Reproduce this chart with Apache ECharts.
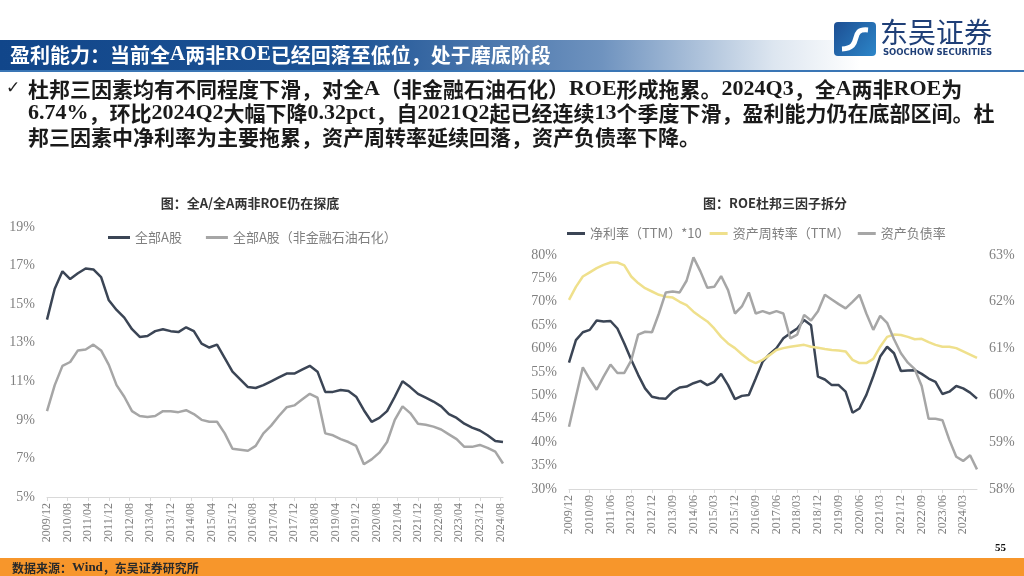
<!DOCTYPE html>
<html>
<head>
<meta charset="utf-8">
<script src="https://cdn.jsdelivr.net/npm/echarts@6/dist/echarts.min.js"></script>
<style>
html,body{margin:0;padding:0;background:#fff;}
#c{width:1024px;height:576px;}
</style>
</head>
<body>
<div id="c"></div>
<script>
// ---------------- DATA ----------------
// quarterly observations (quarter-end months), 2009/12 .. 2024/09
const startYear = 2009, startMonth = 12;
const monthCount = 178; // 2009/12 .. 2024/09
// Left chart: ROE (TTM, %)
const roeAll = [14.2,15.8,16.7,16.3,16.6,16.85,16.8,16.4,15.2,14.7,14.3,13.7,13.3,13.35,13.6,13.7,13.6,13.55,13.8,13.6,12.95,12.75,12.9,12.2,11.5,11.1,10.7,10.65,10.8,11.0,11.2,11.4,11.4,11.6,11.8,11.5,10.45,10.45,10.55,10.5,10.2,9.5,8.9,9.1,9.45,10.2,11.0,10.7,10.35,10.15,9.95,9.7,9.3,9.1,8.8,8.6,8.45,8.2,7.9,7.85];
const roeExFinOil = [9.45,10.8,11.8,12.0,12.6,12.65,12.9,12.6,11.85,10.8,10.2,9.45,9.2,9.15,9.2,9.45,9.45,9.4,9.5,9.3,9.0,8.9,8.9,8.3,7.5,7.45,7.4,7.65,8.3,8.7,9.2,9.65,9.75,10.05,10.35,10.15,8.3,8.2,8.0,7.85,7.65,6.7,6.95,7.3,7.85,9.0,9.7,9.35,8.8,8.75,8.65,8.5,8.25,8.0,7.6,7.6,7.7,7.55,7.35,6.74];
// Right chart: DuPont factors (%)
const netMarginX10 = [57.0,61.8,63.5,64.0,66.0,65.8,65.9,64.3,61.1,57.6,54.4,51.5,49.7,49.4,49.3,50.8,51.7,51.9,52.6,53.1,52.2,52.9,54.6,52.2,49.2,49.9,50.1,53.6,57.2,58.8,60.1,62.2,63.3,64.3,66.1,65.0,54.0,53.4,52.2,52.2,50.8,46.3,47.2,50.1,54.1,58.3,60.4,59.0,55.2,55.3,55.4,54.6,53.6,52.9,50.3,50.8,52.0,51.5,50.6,49.3];
const assetTurnover = [70.4,73.2,75.4,76.3,77.2,77.9,78.4,78.4,77.8,75.4,74.0,72.9,72.2,71.5,71.1,70.9,70.0,69.3,67.9,66.8,65.8,64.3,62.5,61.1,60.1,58.8,57.6,56.9,57.6,58.6,59.7,60.1,60.4,60.6,60.8,60.4,60.2,59.9,59.7,59.6,59.4,57.6,56.9,56.9,57.8,60.4,62.5,63.0,62.9,62.5,62.0,62.1,61.4,60.8,60.4,60.4,60.1,59.4,58.7,58.0];
const debtRatio = [59.33,59.97,60.6,60.35,60.12,60.4,60.66,60.48,60.48,60.75,61.3,61.36,61.35,61.75,62.2,62.22,62.2,62.45,62.95,62.65,62.3,62.32,62.55,62.25,61.75,61.9,62.2,61.75,61.8,61.75,61.8,61.75,61.22,61.3,61.72,61.6,61.8,62.15,62.05,61.95,61.86,62.0,62.15,61.75,61.4,61.7,61.55,61.2,60.9,60.7,60.56,60.2,59.5,59.5,59.47,59.05,58.69,58.6,58.72,58.42];
const leftYTicks = {min:5, max:19, interval:2};
const rightYLeftTicks = {min:30, max:80, interval:5};
const rightYRightTicks = {min:58, max:63, interval:1};
const seriesNamesL = ['全部A股','全部A股（非金融石油石化）'];
const seriesNamesR = ['净利率（TTM）*10','资产周转率（TTM）','资产负债率'];

// ---------------- BUILD ----------------
const months = [];
for (let i = 0; i < monthCount; i++) {
  const t = (startMonth - 1) + i;
  const y = startYear + Math.floor(t / 12);
  const m = t % 12 + 1;
  months.push(y + '/' + (m < 10 ? '0' + m : m));
}
function spread(q) { // place quarterly values at quarter-end months
  const arr = new Array(monthCount).fill(null);
  q.forEach((v, i) => { if (i * 3 < monthCount) arr[i * 3] = v; });
  return arr;
}

const serif = '"Liberation Serif","Times New Roman",serif';
const cjk = '"Noto Sans CJK SC","Noto Sans",sans-serif';
const axisGray = '#d9d9d9';
const labelGray = '#808080';

// rich text: latin runs in serif bold, CJK in CJK bold
function mixRich(str) {
  return str.replace(/([A-Za-z0-9.%]+)/g, '{l|$1}');
}
function richStyles(size, color) {
  return {l:{fontFamily:serif, fontWeight:'bold', fontSize:size+1, fill:color, color:color}};
}

const chart = echarts.init(document.getElementById('c'), null, {renderer:'canvas', width:1024, height:576});

function xAxisCfg(gridIndex, interval) {
  return {
    type:'category', gridIndex, data: months, boundaryGap:false,
    axisLine:{lineStyle:{color:axisGray, width:1}},
    axisTick:{show:true, interval: interval, length:4, lineStyle:{color:axisGray}},
    axisLabel:{interval: interval, rotate:90, color:labelGray, fontFamily:serif, fontSize:12, margin:6},
    splitLine:{show:false}
  };
}
function yAxisCfg(gridIndex, t, pos) {
  return {
    type:'value', gridIndex, position: pos || 'left', min:t.min, max:t.max, interval:t.interval,
    axisLine:{show:false}, axisTick:{show:false}, splitLine:{show:false},
    axisLabel:{formatter:'{value}%', color:labelGray, fontFamily:serif, fontSize:14, margin:12}
  };
}

function textEl(x, y, str, size, color, weight) {
  return {type:'text', x:x, y:y, style:{text:mixRich(str), fill:color,
    font:(weight||'bold') + ' ' + size + 'px ' + cjk, verticalAlign:'middle',
    rich:richStyles(size, color)}};
}

const option = {
  animation:false,
  backgroundColor:'#ffffff',
  title:[
    {text:'图：全A/全A两非ROE仍在探底', left:245, top:192, textAlign:'center',
     textStyle:{fontFamily:cjk, fontWeight:'bold', fontSize:13, color:'#333'}},
    {text:'图：ROE杜邦三因子拆分', left:770, top:192, textAlign:'center',
     textStyle:{fontFamily:cjk, fontWeight:'bold', fontSize:13, color:'#333'}}
  ],
  legend:[
    {data:seriesNamesL, left:103, top:226, itemWidth:22, itemHeight:3, itemGap:24, icon:'rect',
     textStyle:{fontFamily:cjk, fontSize:13, color:'#7f7f7f'}},
    {data:seriesNamesR, left:562, top:222, itemWidth:18, itemHeight:3, itemGap:8, icon:'rect',
     textStyle:{fontFamily:cjk, fontSize:13, color:'#7f7f7f'}}
  ],
  grid:[
    {left:47, right:1024-503, top:227, bottom:576-497},
    {left:569, right:1024-977, top:255, bottom:576-489}
  ],
  xAxis:[xAxisCfg(0,7), xAxisCfg(1,8)],
  yAxis:[
    yAxisCfg(0, leftYTicks),
    yAxisCfg(1, rightYLeftTicks),
    yAxisCfg(1, rightYRightTicks, 'right')
  ],
  series:[
    {name:seriesNamesL[0], type:'line', xAxisIndex:0, yAxisIndex:0, data:spread(roeAll), connectNulls:true,
     showSymbol:false, symbol:'none', lineStyle:{color:'#3b4555', width:2.5}, itemStyle:{color:'#3b4555'}},
    {name:seriesNamesL[1], type:'line', xAxisIndex:0, yAxisIndex:0, data:spread(roeExFinOil), connectNulls:true,
     showSymbol:false, symbol:'none', lineStyle:{color:'#a6a6a6', width:2.5}, itemStyle:{color:'#a6a6a6'}},
    {name:seriesNamesR[0], type:'line', xAxisIndex:1, yAxisIndex:1, data:spread(netMarginX10), connectNulls:true,
     showSymbol:false, symbol:'none', lineStyle:{color:'#3b4555', width:2.5}, itemStyle:{color:'#3b4555'}},
    {name:seriesNamesR[1], type:'line', xAxisIndex:1, yAxisIndex:1, data:spread(assetTurnover), connectNulls:true,
     showSymbol:false, symbol:'none', lineStyle:{color:'#efe08c', width:2.5}, itemStyle:{color:'#efe08c'}},
    {name:seriesNamesR[2], type:'line', xAxisIndex:1, yAxisIndex:2, data:spread(debtRatio), connectNulls:true,
     showSymbol:false, symbol:'none', lineStyle:{color:'#a6a6a6', width:2.5}, itemStyle:{color:'#a6a6a6'}}
  ],
  graphic:[
    // header band
    {type:'rect', x:0, y:40, shape:{x:0, y:0, width:860, height:30}, z:0,
     style:{fill:new echarts.graphic.LinearGradient(0,0,1,0,[
       {offset:0, color:'#11468a'},{offset:0.4, color:'#1d5395'},{offset:0.7, color:'#6f93bf'},
       {offset:0.9, color:'#dde6f0'},{offset:1, color:'#ffffff'}])}},
    {type:'rect', x:0, y:70, shape:{x:0, y:0, width:1024, height:2}, style:{fill:'#3a76b5'}},
    textEl(10, 55, '盈利能力：当前全A两非ROE已经回落至低位，处于磨底阶段', 20, '#ffffff'),
    // logo
    {type:'rect', x:834, y:22, shape:{x:0, y:0, width:42, height:34, r:4},
     style:{fill:new echarts.graphic.LinearGradient(0,0,1,1,[{offset:0,color:'#1d4f93'},{offset:1,color:'#2c86c9'}])}},
    {type:'bezierCurve', x:834, y:22, shape:{x1:34, y1:8, cpx1:14, cpy1:6, cpx2:30, cpy2:26, x2:8, y2:27},
     style:{stroke:'#ffffff', lineWidth:5, fill:null}},
    {type:'text', x:880, y:32, style:{text:'东吴证券', fill:'#1f3f77', font:'28px ' + cjk, verticalAlign:'middle'}},
    {type:'text', x:883, y:53, style:{text:'SOOCHOW SECURITIES', fill:'#1f3f77', font:'bold 8.5px "DejaVu Sans",sans-serif', verticalAlign:'middle'}},
    // body
    {type:'text', x:6, y:89, style:{text:'✓', fill:'#222', font:'bold 17px "DejaVu Sans",sans-serif', verticalAlign:'middle'}},
    textEl(28, 89, '杜邦三因素均有不同程度下滑，对全A（非金融石油石化）ROE形成拖累。2024Q3，全A两非ROE为', 21, '#1a1a1a'),
    textEl(28, 113, '6.74%，环比2024Q2大幅下降0.32pct，自2021Q2起已经连续13个季度下滑，盈利能力仍在底部区间。杜', 21, '#1a1a1a'),
    textEl(28, 137, '邦三因素中净利率为主要拖累，资产周转率延续回落，资产负债率下降。', 21, '#1a1a1a'),
    // footer
    {type:'text', x:995, y:548, style:{text:'55', fill:'#111', font:'bold 11px ' + serif, verticalAlign:'middle'}},
    {type:'rect', x:0, y:558, shape:{x:0, y:0, width:1024, height:18}, style:{fill:'#f7962b'}},
    textEl(12, 568, '数据来源：Wind，东吴证券研究所', 12, '#2a2a2a')
  ]
};
chart.setOption(option);
</script>
</body>
</html>
